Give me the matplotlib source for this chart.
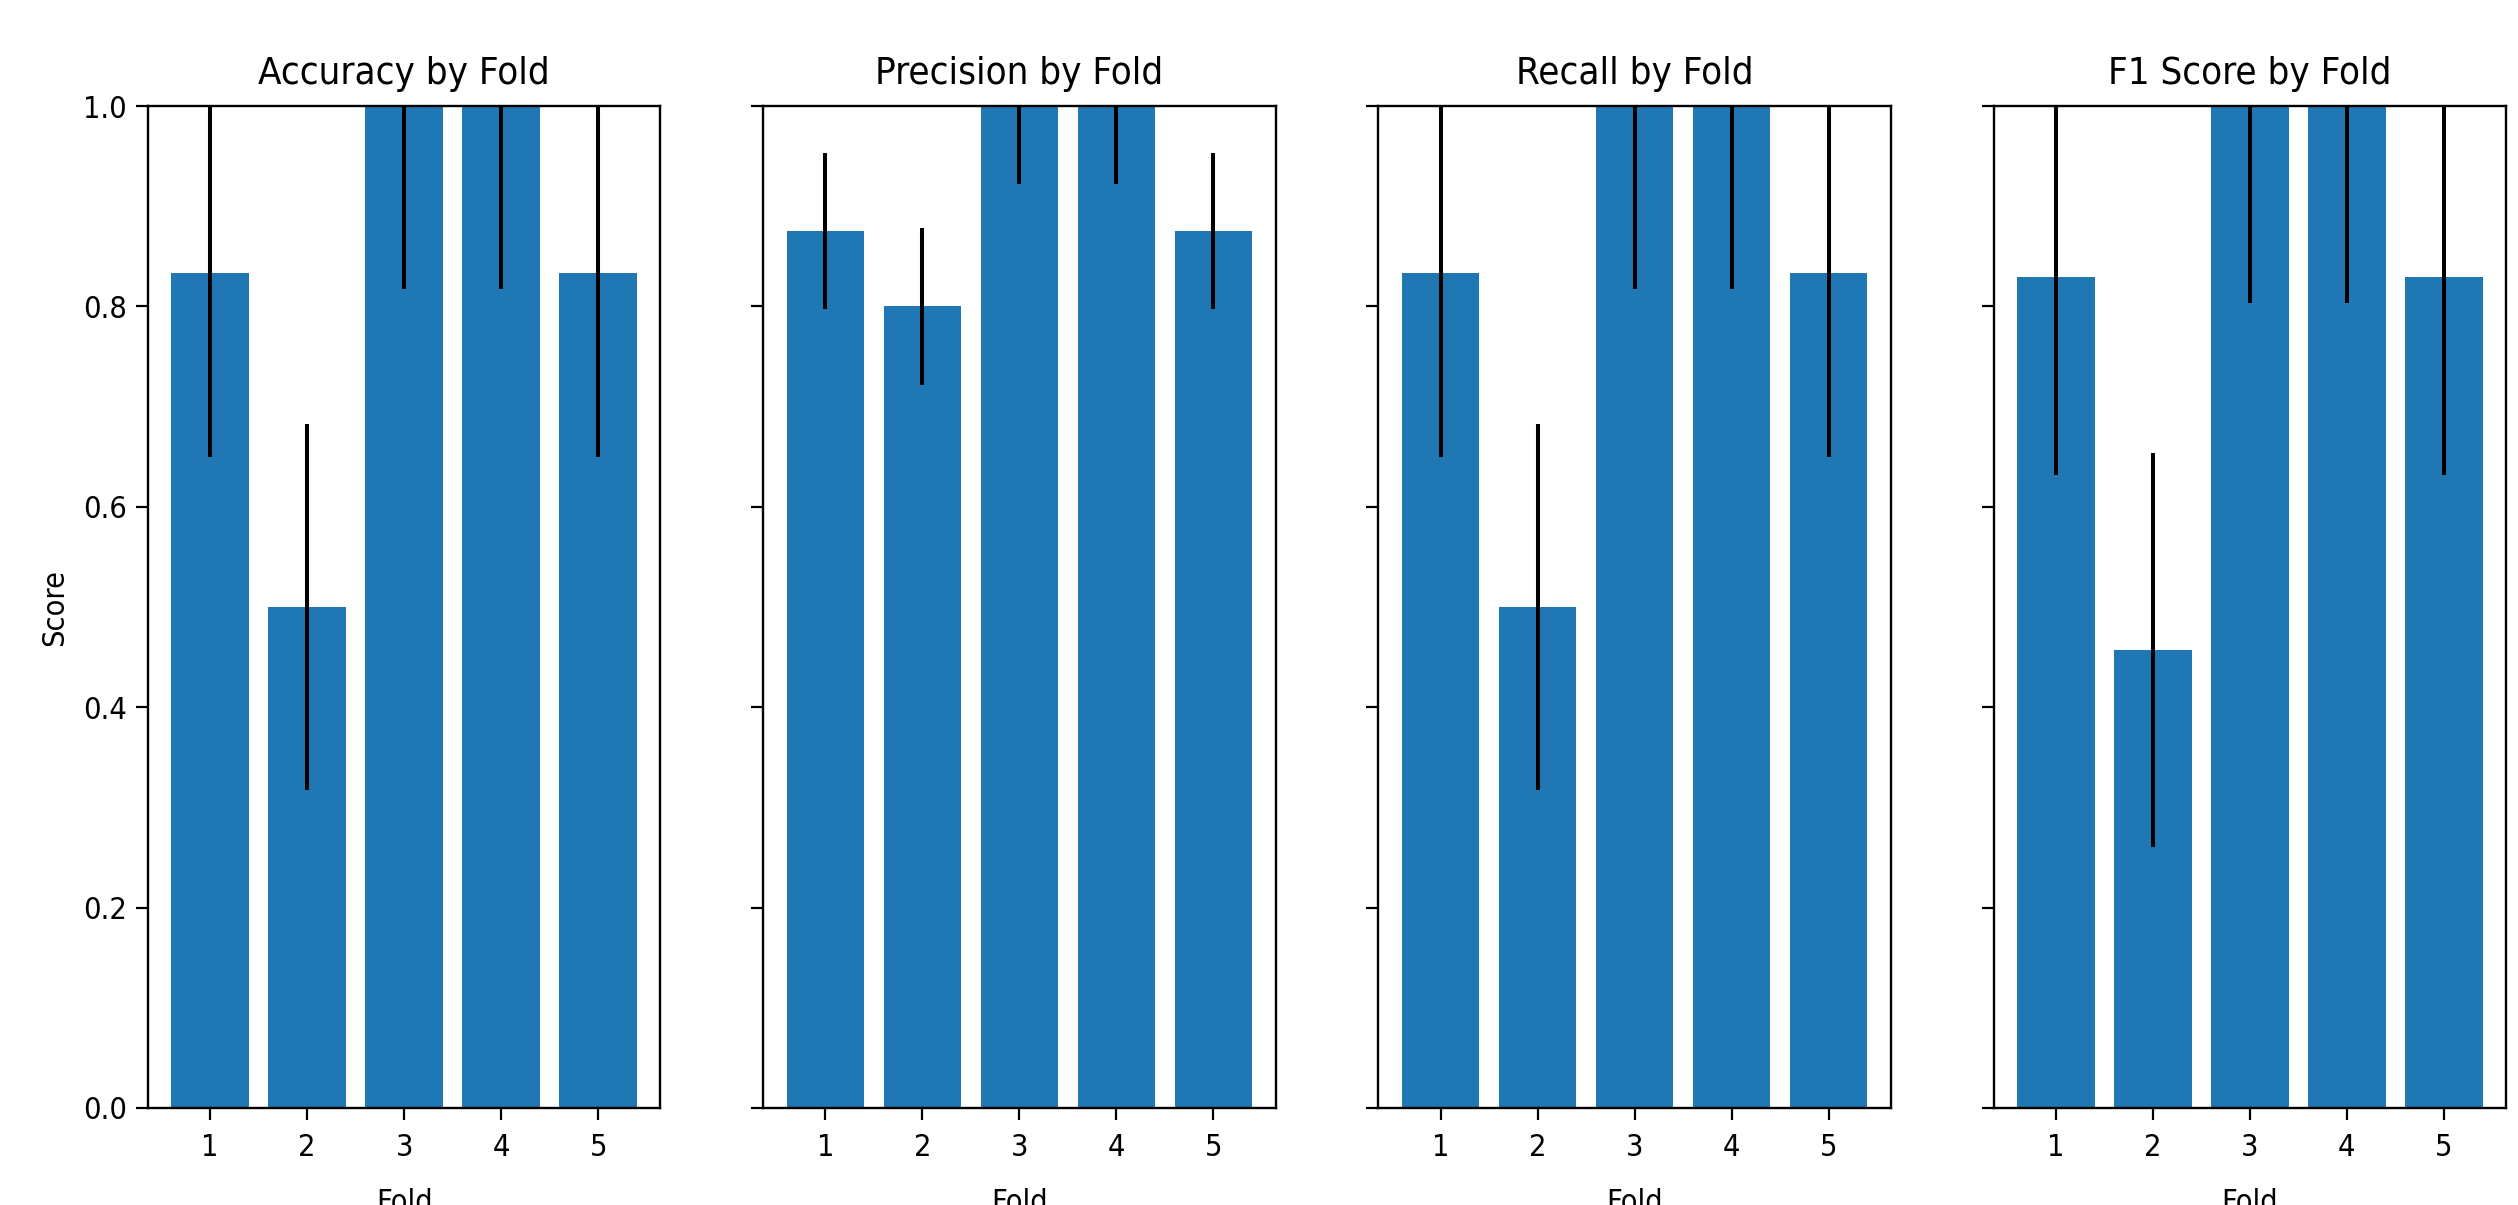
import matplotlib
matplotlib.use("Agg")
import matplotlib.pyplot as plt

plt.rcParams["font.family"] = "DejaVu Sans"
plt.rcParams["font.stretch"] = "condensed"

folds = [1, 2, 3, 4, 5]
titles = ["Accuracy by Fold", "Precision by Fold", "Recall by Fold", "F1 Score by Fold"]
accuracy = [0.833, 0.5, 1.0, 1.0, 0.833]
precision = [0.875, 0.8, 1.0, 1.0, 0.875]
recall = [0.833, 0.5, 1.0, 1.0, 0.833]
f1 = [0.829, 0.457, 1.0, 1.0, 0.829]
errs = [0.183, 0.078, 0.183, 0.197]
yticks = [0.0, 0.2, 0.4, 0.6, 0.8, 1.0]

fig, axes = plt.subplots(1, 4, sharey=True, figsize=(25.18, 12.05), dpi=100)
fig.subplots_adjust(left=0.0588, right=0.9952, bottom=0.0805, top=0.912, wspace=0.201)

for ax, title, vals, e in zip(axes, titles, [accuracy, precision, recall, f1], errs):
    ax.bar(folds, vals, color="#1f77b4", yerr=e,
           error_kw=dict(ecolor="black", elinewidth=2.9, capsize=0))
    ax.set_title(title, fontsize=27.5, pad=16)
    ax.set_xlabel("Fold", fontsize=22, labelpad=19)
    ax.set_xticks(folds)
    ax.set_ylim(0, 1)
    ax.set_yticks(yticks)
    ax.tick_params(axis="both", labelsize=22, length=8.3, width=1.6)
    ax.tick_params(axis="x", pad=9.4)
    ax.tick_params(axis="y", pad=7)
    for s in ax.spines.values():
        s.set_linewidth(1.7)

axes[0].set_ylabel("Score", fontsize=22, labelpad=10)

fig.savefig("out.png", dpi=100)
